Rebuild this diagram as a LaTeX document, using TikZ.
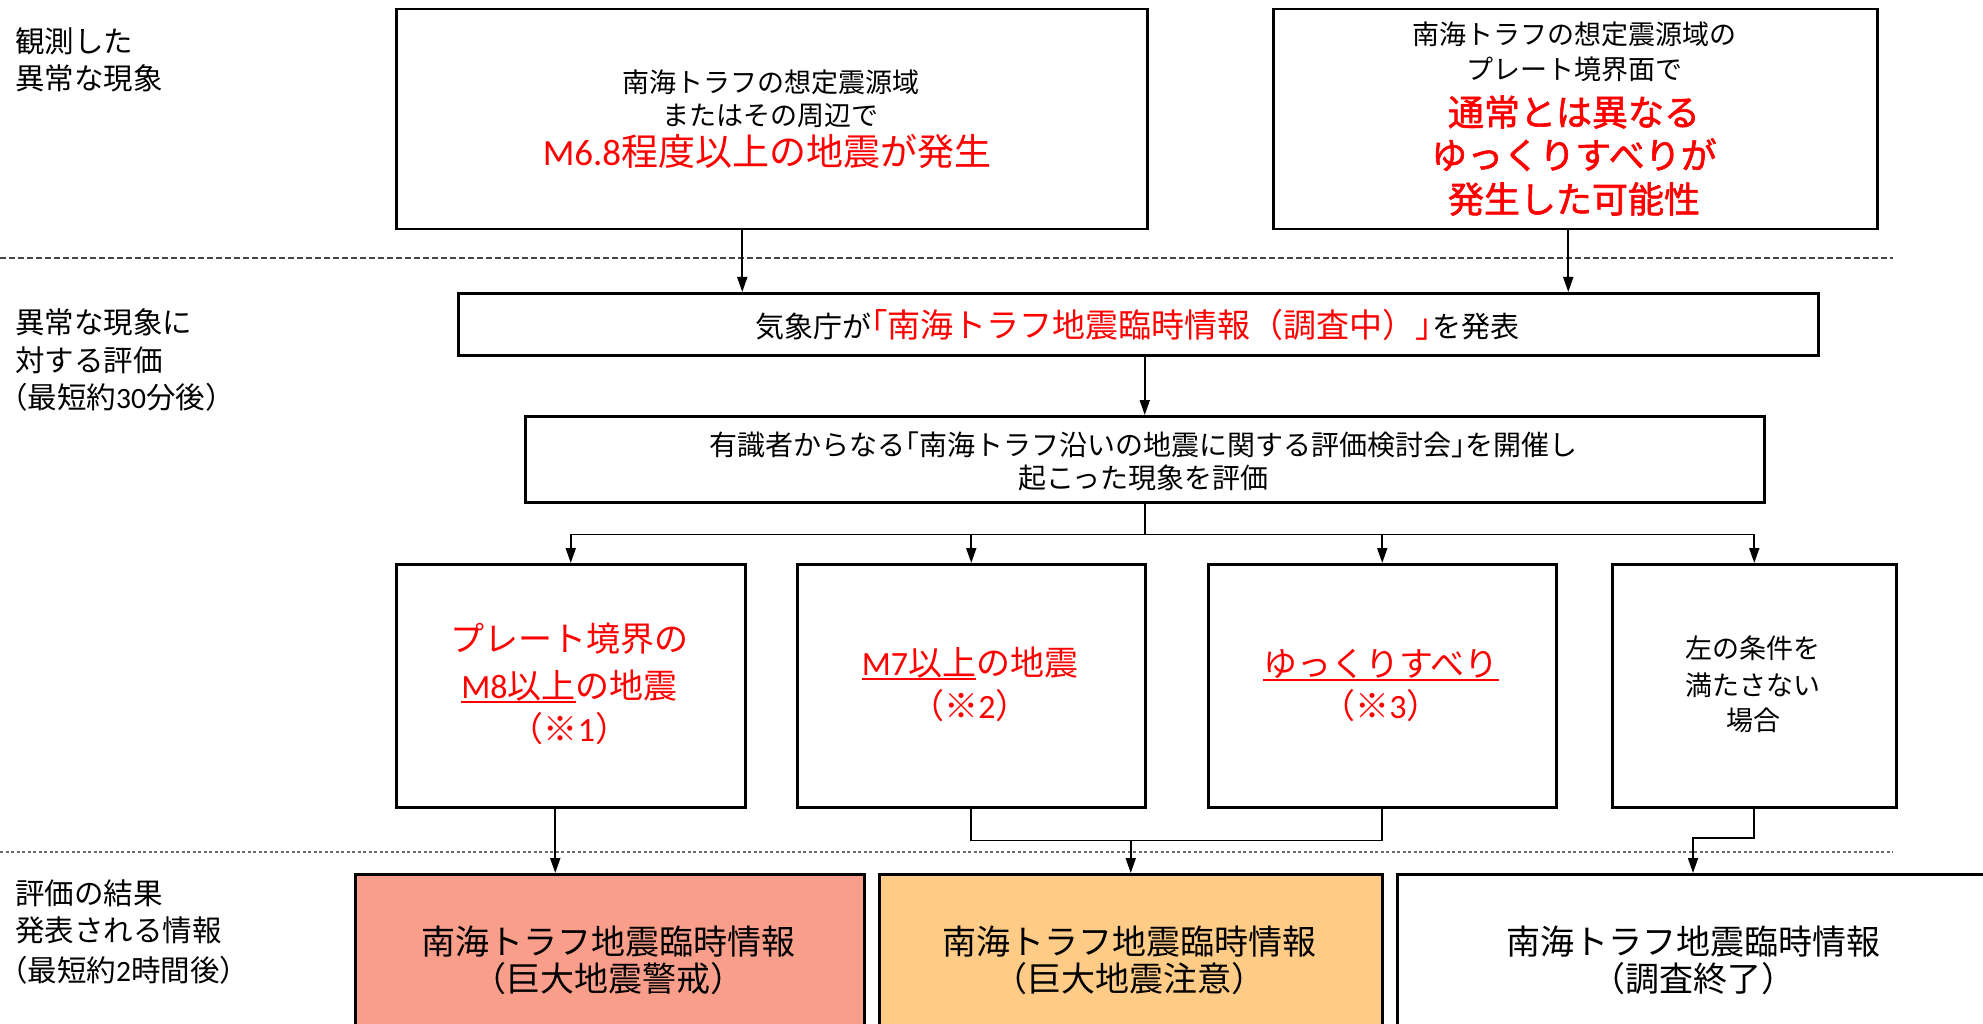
\documentclass[tikz,border=0pt]{standalone}
\usepackage{fontspec}
\setmainfont{Noto Sans CJK JP}
\newfontfamily\lat{Carlito}
\newfontfamily\jpbf{Noto Sans CJK JP}[FakeBold=1.6]
\usetikzlibrary{arrows.meta,calc}
\definecolor{warnfill}{RGB}{250,158,140}
\definecolor{cautfill}{RGB}{255,204,136}
\definecolor{sepgray}{RGB}{70,70,70}
\newcommand\fs[1]{\fontsize{#1}{#1}\selectfont}
\newcommand\redul[1]{\setbox0\hbox{#1}\rlap{\rule[-5pt]{\wd0}{2pt}}\box0}
\begin{document}
\begin{tikzpicture}[x=1pt,y=-1pt,
  box/.style={draw=black,line width=2.5pt,fill=white,inner sep=0pt,anchor=north west},
  txt/.style={inner sep=0pt,anchor=base},
  lbl/.style={inner sep=0pt,anchor=base west,font=\fs{29.5}},
  conn/.style={line width=1.8pt,draw=black},
  arr/.style={conn,-{Triangle[length=15pt,width=10pt]}},
  sepdash/.style={line width=1.5pt,draw=sepgray,dash pattern=on 5.5pt off 3.5pt},
  sepdot/.style={line width=1.5pt,draw=sepgray!80,dash pattern=on 3pt off 2.5pt}]
\useasboundingbox (0,0) rectangle (1983,1024);
\clip (0,0) rectangle (1983,1024);

% separators
\draw[sepdash] (0,258) -- (1893,258);
\draw[sepdot] (0,852) -- (1893,852);

% boxes
\node[box,minimum width=751pt,minimum height=220pt] (A) at (395,8) {};
\node[box,minimum width=604pt,minimum height=220pt] (B) at (1272,8) {};
\node[box,minimum width=1360pt,minimum height=62pt] (C) at (457,292) {};
\node[box,minimum width=1239pt,minimum height=86pt] (D) at (524,415) {};
\node[box,minimum width=349pt,minimum height=243pt] (E1) at (395,563) {};
\node[box,minimum width=348pt,minimum height=243pt] (E2) at (796,563) {};
\node[box,minimum width=348pt,minimum height=243pt] (E3) at (1207,563) {};
\node[box,minimum width=284pt,minimum height=243pt] (E4) at (1611,563) {};
\node[box,fill=warnfill,minimum width=509pt,minimum height=170pt] (F1) at (354,873) {};
\node[box,fill=cautfill,minimum width=503pt,minimum height=170pt] (F2) at (878,873) {};
\node[box,minimum width=600pt,minimum height=170pt] (F3) at (1396,873) {};

% left labels
\node[lbl] (l1) at (15,52.2) {観測した};
\node[lbl] (l2) at (15,89.2) {異常な現象};
\node[lbl] (l3) at (15,333.2) {異常な現象に};
\node[lbl] (l4) at (15,371.2) {対する評価};
\node[lbl] (l5) at (-2,408.2) {（最短約{\lat 30}分後）};
\node[lbl] (l6) at (15,904.2) {評価の結果};
\node[lbl] (l7) at (15,941.2) {発表される情報};
\node[lbl] (l8) at (-2,981.2) {（最短約{\lat 2}時間後）};

% box A
\node[txt,font=\fs{27}] (a1) at (770.5,92.3) {南海トラフの想定震源域};
\node[txt,font=\fs{27}] (a2) at (770.5,125.3) {またはその周辺で};
\node[txt,font=\fs{37},text=red] (a3) at (767,166) {{\lat M6.8}程度以上の地震が発生};

% box B
\node[txt,font=\fs{27}] (b1) at (1574,44.3) {南海トラフの想定震源域の};
\node[txt,font=\fs{27}] (b2) at (1574,79.3) {プレート境界面で};
\node[txt,font=\jpbf\fs{36},text=red] (b3) at (1574,125.7) {通常とは異なる};
\node[txt,font=\jpbf\fs{36},text=red] (b4) at (1574,168.7) {ゆっくりすべりが};
\node[txt,font=\jpbf\fs{36},text=red] (b5) at (1574,212.7) {発生した可能性};

% box C
\node[txt,font=\fs{29}] (c1) at (1137,337.5) {気象庁が{\color{red}\fs{33}｢南海トラフ地震臨時情報（調査中）｣}を発表};

% box D
\node[txt,font=\fs{28}] (d1) at (1143.5,455.6) {有識者からなる｢南海トラフ沿いの地震に関する評価検討会｣を開催し};
\node[txt,font=\fs{28}] (d2) at (1143.5,488.6) {起こった現象を評価};

% E boxes
\node[txt,font=\fs{34},text=red] (e11) at (569.5,651) {プレート境界の};
\node[txt,font=\fs{34},text=red] (e12) at (569.5,698) {\redul{{\lat M8}以上}の地震};
\node[txt,font=\fs{34},text=red] (e13) at (569.5,741) {（※{\lat 1}）};
\node[txt,font=\fs{34},text=red] (e21) at (970,675) {\redul{{\lat M7}以上}の地震};
\node[txt,font=\fs{34},text=red] (e22) at (970,718) {（※{\lat 2}）};
\node[txt,font=\fs{34},text=red] (e31) at (1381,676) {\redul{ゆっくりすべり}};
\node[txt,font=\fs{34},text=red] (e32) at (1381,718) {（※{\lat 3}）};
\node[txt,font=\fs{27}] (e41) at (1753,658.3) {左の条件を};
\node[txt,font=\fs{27}] (e42) at (1753,695.3) {満たさない};
\node[txt,font=\fs{27}] (e43) at (1753,730.3) {場合};

% F boxes
\node[txt,font=\fs{34}] (f11) at (608.5,954) {南海トラフ地震臨時情報};
\node[txt,font=\fs{34}] (f12) at (608.5,991) {（巨大地震警戒）};
\node[txt,font=\fs{34}] (f21) at (1129.5,954) {南海トラフ地震臨時情報};
\node[txt,font=\fs{34}] (f22) at (1129.5,991) {（巨大地震注意）};
\node[txt,font=\fs{34}] (f31) at (1693,954) {南海トラフ地震臨時情報};
\node[txt,font=\fs{34}] (f32) at (1693,991) {（調査終了）};

% connectors
\draw[arr] ([xshift=-29.5pt]A.south) -- ([xshift=-29.5pt]A.south |- C.north);
\draw[arr] ([xshift=-7pt]B.south) -- ([xshift=-7pt]B.south |- C.north);
\draw[arr] (C.south -| D.north) -- (D.north);
\coordinate (br) at ($(D.south)+(0,31)$);
\draw[conn] (D.south) -- (br);
\draw[arr] (br) -| (E1.north);
\draw[arr] (br) -| (E4.north);
\draw[arr] (br -| E2.north) -- (E2.north);
\draw[arr] (br -| E3.north) -- (E3.north);
\draw[arr] ([xshift=-15.5pt]E1.south) -- ([xshift=-15.5pt]E1.south |- F1.north);
\coordinate (jn) at ($(E2.south)+(0,32)$);
\draw[conn] (E2.south) |- (E3.south |- jn) -- (E3.south);
\draw[arr] (F2.north |- jn) -- (F2.north);
\coordinate (f3top) at ($(F3.north west)+(297,0)$);
\draw[arr] (E4.south) |- ($(f3top)+(0,-35)$) -- (f3top);
\end{tikzpicture}
\end{document}
